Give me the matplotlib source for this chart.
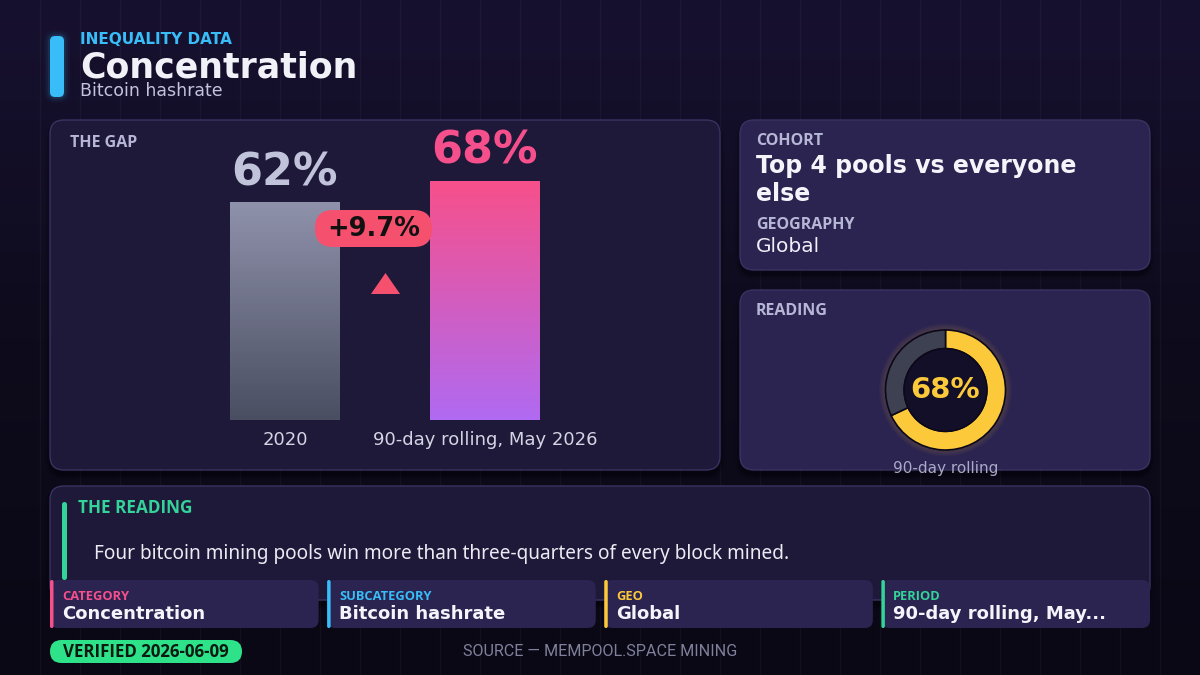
import numpy as np
import matplotlib
matplotlib.use('Agg')
import matplotlib.pyplot as plt
from matplotlib.patches import FancyBboxPatch, Circle
from matplotlib.colors import LinearSegmentedColormap
from matplotlib.path import Path

W, H = 1200, 675

# ---------------- data ----------------
kicker = "INEQUALITY DATA"
title = "Concentration"
subtitle = "Bitcoin hashrate"
periods = ["2020", "90-day rolling, May 2026"]
shares = [62, 68]
cohort_label = "COHORT"
cohort = "Top 4 pools vs everyone\nelse"
geo_label = "GEOGRAPHY"
geography = "Global"
reading_value = 68
reading_label = "90-day rolling"
reading_text = "Four bitcoin mining pools win more than three-quarters of every block mined."
tile_labels = ["CATEGORY", "SUBCATEGORY", "GEO", "PERIOD"]
tile_values = ["Concentration", "Bitcoin hashrate", "Global", "90-day rolling, May..."]
verified = "VERIFIED 2026-06-09"
source = "SOURCE \u2014 MEMPOOL.SPACE MINING"

# ---------------- style ----------------
C_BLUE = '#38bdf8'
C_PINK = '#f5508c'
C_YEL = '#fcc93b'
C_GRN = '#34d399'
C_RED = '#f5516e'
C_LBL = '#b6b6d6'
PANEL_A = '#1e1839'
PANEL_B = '#2b2350'
EDGE = '#3a3362'
LBLFONT = ['Open Sans', 'DejaVu Sans']
BODYFONT = ['Noto Sans', 'DejaVu Sans']
plt.rcParams['font.family'] = ['DejaVu Sans']

fig = plt.figure(figsize=(12, 6.75), dpi=100)
bg = fig.add_axes([0, 0, 1, 1], zorder=0)
bg.set_xlim(0, W)
bg.set_ylim(H, 0)
bg.axis('off')

grad = np.linspace(0, 1, 256)[:, None]
cmap_bg = LinearSegmentedColormap.from_list('bg', ['#171130', '#0e0b1c', '#0a0815'])
bg.imshow(grad, extent=(0, W, H, 0), cmap=cmap_bg, aspect='auto', zorder=0)
bg.vlines(np.arange(40, W, 40), 0, H, color='#ffffff', alpha=0.035, lw=1, zorder=0.5)
bg.set_xlim(0, W)
bg.set_ylim(H, 0)


def panel(x, y, w, h, fc, ec=EDGE, r=14, z=1, shadow=True, lw=1.0):
    if shadow:
        for i, a in enumerate([0.18, 0.12, 0.07]):
            bg.add_patch(FancyBboxPatch((x - 1 - i * 2, y + 2 - i), w + 2 + i * 4, h + 4 + i * 3,
                                        boxstyle=f"round,pad=0,rounding_size={r + 2 + i * 2}",
                                        fc='#000000', ec='none', alpha=a, zorder=z - 0.1))
    bg.add_patch(FancyBboxPatch((x, y), w, h, boxstyle=f"round,pad=0,rounding_size={r}",
                                fc=fc, ec=ec, lw=lw, zorder=z))


# ---------------- header ----------------
for i, a in enumerate([0.10, 0.06, 0.03]):
    bg.add_patch(FancyBboxPatch((50 - 2 - 2 * i, 36 - 2 - 2 * i), 14 + 4 + 4 * i, 61 + 4 + 4 * i,
                                boxstyle=f"round,pad=0,rounding_size={8 + 2 * i}",
                                fc=C_BLUE, ec='none', alpha=a, zorder=1))
bg.add_patch(FancyBboxPatch((50, 36), 14, 61, boxstyle="round,pad=0,rounding_size=5",
                            fc=C_BLUE, ec='none', zorder=2))
bg.text(80, 39, kicker, fontsize=11, weight='bold', color=C_BLUE, va='center', ha='left')
bg.text(80, 67, title, fontsize=25, weight='bold', color='#f1f1f8', va='center', ha='left')
bg.text(80, 91, subtitle, fontsize=12.5, color='#c4c3de', va='center', ha='left')

# ---------------- panels ----------------
panel(50, 120, 670, 350, PANEL_A)
panel(740, 120, 410, 150, PANEL_B)
panel(740, 290, 410, 180, PANEL_B)
panel(50, 486, 1100, 114, PANEL_A, z=1)

bg.text(70, 143, "THE GAP", fontsize=11.5, weight='bold', color=C_LBL, va='center',
        ha='left', family=LBLFONT, zorder=3)

# ---------------- bars ----------------
x0p, x1p = 185, 585
y100, y0 = 68, 420
axb = fig.add_axes([x0p / W, 1 - y0 / H, (x1p - x0p) / W, (y0 - y100) / H], zorder=1)
axb.patch.set_alpha(0)
bars = axb.bar(range(len(shares)), shares, width=0.55, color='none', ec='none', zorder=2)
grads = [('#4a4e61', '#8f92ab'), ('#b06af2', '#f7508a')]
val_colors = ['#c0c3da', C_PINK]
for i, (b, (cb, ct)) in enumerate(zip(bars, grads)):
    cm = LinearSegmentedColormap.from_list(f'g{i}', [cb, ct])
    bx, bw, bh = b.get_x(), b.get_width(), b.get_height()
    im = axb.imshow(np.linspace(0, 1, 256)[:, None], extent=(bx, bx + bw, 0, bh),
                    origin='lower', cmap=cm, aspect='auto', zorder=2)
    im.set_clip_path(b)
    axb.text(i, shares[i] + 8.3, f"{shares[i]}%", ha='center', va='center', fontsize=32,
             weight='bold', color=val_colors[i], zorder=4)
    axb.text(i, -5.8, periods[i], ha='center', va='center', fontsize=13, color='#d4d4e4',
             clip_on=False)
axb.set_xlim(-0.5, 1.5)
axb.set_ylim(0, 100)
axb.axis('off')

tri = Path([(-1, -0.72), (1, -0.72), (0, 0.72), (-1, -0.72)],
           [Path.MOVETO, Path.LINETO, Path.LINETO, Path.CLOSEPOLY])
axb.plot([0.5], [39], marker=tri, ms=21, color=C_RED, mec='none', zorder=3)

# overlay axes for elements above the bars
top = fig.add_axes([0, 0, 1, 1], zorder=5)
top.set_xlim(0, W)
top.set_ylim(H, 0)
top.axis('off')
top.patch.set_alpha(0)

change = (shares[1] - shares[0]) / shares[0] * 100
top.add_patch(FancyBboxPatch((315, 210), 117, 37, boxstyle="round,pad=0,rounding_size=18",
                             fc=C_RED, ec='none', zorder=5))
top.text(373.5, 229, f"+{change:.1f}%", fontsize=18.5, weight='bold', color='#111111',
         ha='center', va='center', zorder=6)

# ---------------- cohort panel ----------------
bg.text(756, 141, cohort_label, fontsize=11.5, weight='bold', color=C_LBL, va='center',
        ha='left', family=LBLFONT, zorder=3)
bg.text(756, 180, cohort, fontsize=17, weight='bold', color='#f4f4fa', va='center',
        ha='left', linespacing=1.22, zorder=3)
bg.text(756, 225, geo_label, fontsize=11.5, weight='bold', color=C_LBL, va='center',
        ha='left', family=LBLFONT, zorder=3)
bg.text(756, 246, geography, fontsize=14.5, color='#f0f0f8', va='center', ha='left', zorder=3)

# ---------------- reading donut ----------------
bg.text(756, 311, "READING", fontsize=11.5, weight='bold', color=C_LBL, va='center',
        ha='left', family=LBLFONT, zorder=3)
cx, cy, R = 945.5, 390, 60
sz = 2 * R * 1.25
axd = fig.add_axes([(cx - sz / 2) / W, 1 - (cy + sz / 2) / H, sz / W, sz / H], zorder=2)
axd.patch.set_alpha(0)
for k in range(5):
    axd.add_patch(Circle((0, 0), 1.0 + 0.022 * (k + 1), fc=C_YEL, ec='none', alpha=0.03, zorder=0))
axd.pie([reading_value, 100 - reading_value], colors=[C_YEL, '#3e4152'], startangle=90,
        counterclock=False, radius=1.0,
        wedgeprops=dict(width=0.31, edgecolor='#0b0818', linewidth=1.2))
axd.add_patch(Circle((0, 0), 0.69, fc='#140f28', ec='#0b0818', lw=1.0, zorder=3))
axd.text(0, 0, f"{reading_value}%", ha='center', va='center', fontsize=21, weight='bold',
         color=C_YEL, zorder=4)
axd.set_xlim(-1.25, 1.25)
axd.set_ylim(-1.25, 1.25)
axd.set_aspect('equal')
axd.axis('off')
top.text(945.5, 468, reading_label, fontsize=11, color='#a9a9c8', va='center', ha='center',
         zorder=3)

# ---------------- the reading ----------------
bg.add_patch(FancyBboxPatch((62, 502), 5, 78, boxstyle="round,pad=0,rounding_size=2.5",
                            fc=C_GRN, ec='none', zorder=3))
bg.text(78, 508, "THE READING", fontsize=12.3, weight='bold', color=C_GRN, va='center',
        ha='left', family=LBLFONT, zorder=3)
bg.text(94, 554, reading_text, fontsize=13.7, color='#ebebf3', va='center', ha='left',
        family=BODYFONT, zorder=3)

# ---------------- tiles ----------------
tile_colors = [C_PINK, C_BLUE, C_YEL, C_GRN]
tw, gap = (1100 - 3 * 8.5) / 4, 8.5
for i, (lab, val, col) in enumerate(zip(tile_labels, tile_values, tile_colors)):
    tx = 50 + i * (tw + gap)
    bg.add_patch(FancyBboxPatch((tx, 580), tw, 48, boxstyle="round,pad=0,rounding_size=8",
                                fc=PANEL_B, ec='none', zorder=4))
    bg.add_patch(FancyBboxPatch((tx, 580), 3.5, 48, boxstyle="round,pad=0,rounding_size=1.7",
                                fc=col, ec='none', zorder=5))
    bg.text(tx + 12, 596, lab, fontsize=9.3, weight='bold', color=col, va='center', ha='left',
            family=LBLFONT, zorder=6)
    bg.text(tx + 12, 614, val, fontsize=13, weight='bold', color='#f4f4fa', va='center',
            ha='left', zorder=6)

# ---------------- footer ----------------
bg.add_patch(FancyBboxPatch((50, 640), 192, 23, boxstyle="round,pad=0,rounding_size=11.5",
                            fc='#2ee28a', ec='none', zorder=4))
bg.text(146, 652, verified, fontsize=12.2, weight='bold', color='#0b1a10', va='center',
        ha='center', family=LBLFONT, zorder=5)
bg.text(600, 652, source, fontsize=11.6, color='#7f809c', va='center', ha='center',
        family=['Roboto', 'DejaVu Sans'], zorder=5)

fig.savefig('out.png', dpi=100, facecolor='#0e0b1c')
